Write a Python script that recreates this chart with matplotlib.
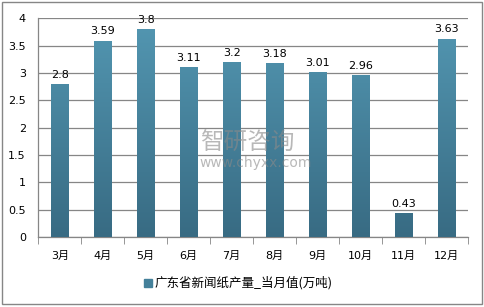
import matplotlib
matplotlib.use("Agg")
import matplotlib.pyplot as plt
import numpy as np
from matplotlib.colors import LinearSegmentedColormap
from matplotlib.patches import Rectangle

months = ["3月", "4月", "5月", "6月", "7月", "8月", "9月", "10月", "11月", "12月"]
values = [2.8, 3.59, 3.8, 3.11, 3.2, 3.18, 3.01, 2.96, 0.43, 3.63]
value_labels = ["2.8", "3.59", "3.8", "3.11", "3.2", "3.18", "3.01", "2.96", "0.43", "3.63"]
legend_label = "广东省新闻纸产量_当月值(万吨)"
yticks = [0, 0.5, 1, 1.5, 2, 2.5, 3, 3.5, 4]
ytick_labels = ["0", "0.5", "1", "1.5", "2", "2.5", "3", "3.5", "4"]

plt.rcParams['font.family'] = ['DejaVu Sans', 'Noto Sans CJK SC']

fig = plt.figure(figsize=(4.84, 3.07), dpi=100)
ax = fig.add_axes([0.0791, 0.228, 0.967 - 0.0791, 0.9404 - 0.228])

x = np.arange(len(months))
bw = 0.4
bars = ax.bar(x, values, width=bw, color="#4a88a3", zorder=3)

cmap = LinearSegmentedColormap.from_list("g", ["#386b83", "#5397b2"])
grad = np.linspace(0, 1, 256).reshape(-1, 1)
for b in bars:
    bx = b.get_x()
    w = b.get_width()
    im = ax.imshow(grad, cmap=cmap, aspect="auto", origin="lower",
                   extent=[bx, bx + w, 0, 4], zorder=3.5)
    im.set_clip_path(b)

ax.set_xlim(-0.5, len(months) - 0.5)
ax.set_ylim(0, 4)
ax.set_yticks(yticks)
ax.set_yticklabels(ytick_labels, fontsize=8)
ax.set_xticks(x)
ax.set_xticklabels(months, fontsize=8, family=['DejaVu Sans', 'Noto Sans CJK SC'])
ax.set_xticks(np.arange(-0.5, len(months)), minor=True)
ax.tick_params(axis='x', which='major', length=0, pad=10)
ax.tick_params(axis='x', which='minor', length=5, color="#868686", direction='out')
ax.tick_params(axis='y', length=0, pad=9)
ax.grid(axis='y', color="#868686", linewidth=0.9, zorder=0)
for s in ["top", "right"]:
    ax.spines[s].set_visible(False)
for s in ["left", "bottom"]:
    ax.spines[s].set_color("#868686")
    ax.spines[s].set_linewidth(0.9)

for xi, v, lab in zip(x, values, value_labels):
    ax.text(xi, v + 0.08, lab, ha="center", va="bottom", fontsize=8, zorder=5)

# watermark
fig.text(0.413, 0.534, "智研咨询", fontsize=17, color="#8a8a8a", alpha=0.6,
         family=['Noto Sans CJK SC'], ha="left", va="center", zorder=10)
fig.text(0.413, 0.468, "www.chyxx.com", fontsize=10, color="#8a8a8a", alpha=0.6,
         ha="left", va="center", zorder=10)

# legend
fig.patches.append(Rectangle((144 / 484, 1 - 287 / 307), 8 / 484, 8 / 307,
                             transform=fig.transFigure, color="#44809a"))
fig.text(155 / 484, 1 - 283 / 307, legend_label, fontsize=9,
         family=['Noto Sans CJK SC'], ha="left", va="center")

# outer border
fig.patches.append(Rectangle((1.5 / 484, 1 - 303.5 / 307), 480 / 484, 302 / 307,
                             transform=fig.transFigure, fill=False,
                             edgecolor="#868686", linewidth=1))

fig.savefig("out.png", dpi=100)
